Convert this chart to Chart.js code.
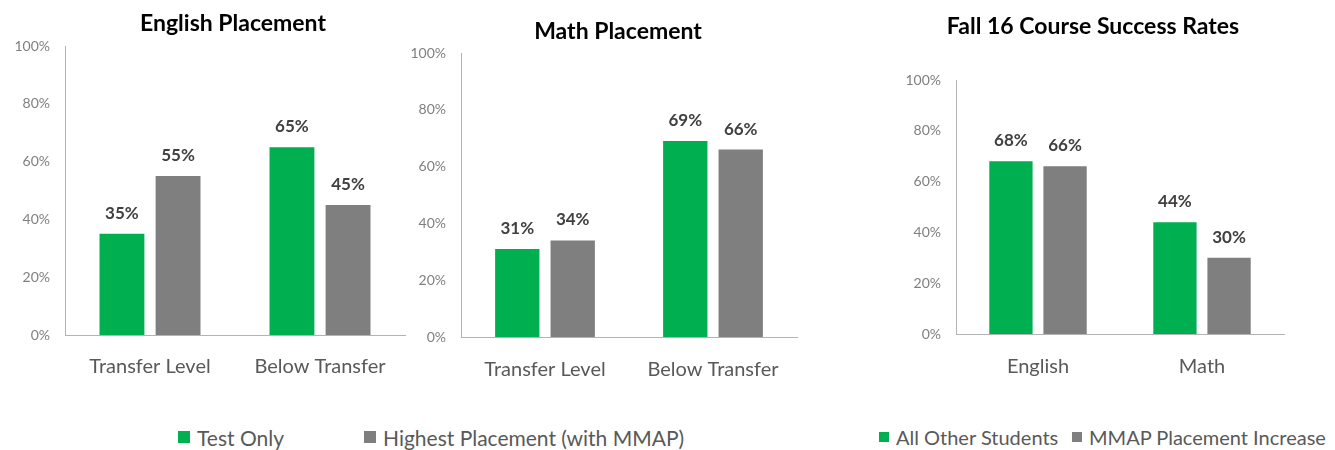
<!DOCTYPE html>
<html>
<head>
<meta charset="utf-8">
<script src="https://cdn.jsdelivr.net/npm/chart.js@4.4.0/dist/chart.umd.min.js"></script>
<style>
  body { margin: 0; background: #fff; width: 1335px; height: 450px; position: relative; overflow: hidden; font-family: Lato, sans-serif; }
  .box { position: absolute; top: 0; height: 400px; }
  .item { position: absolute; top: 425px; height: 24px; display: flex; align-items: center; color: #595959; white-space: nowrap; }
  .item i { display: inline-block; margin-right: 7px; }
</style>
</head>
<body>
<div class="box" style="left:0;width:466px"><canvas id="english"></canvas></div>
<div class="box" style="left:405px;width:423px"><canvas id="math"></canvas></div>
<div class="box" style="left:860px;width:475px"><canvas id="success"></canvas></div>
<div id="legend1"></div>
<div id="legend2"></div>
<script>
const placementCategories = ['Transfer Level', 'Below Transfer'];
const placementSeries = ['Test Only', 'Highest Placement (with MMAP)'];
const englishTestOnly = [35, 65];
const englishHighest = [55, 45];
const mathTestOnly = [31, 69];
const mathHighest = [34, 66];

const successCategories = ['English', 'Math'];
const successSeries = ['All Other Students', 'MMAP Placement Increase'];
const allOtherStudents = [68, 44];
const mmapIncrease = [66, 30];

const colors = ['#00B050', '#7F7F7F'];

// value labels above each bar
const valueLabels = {
  id: 'valueLabels',
  afterDatasetsDraw(chart) {
    const ctx = chart.ctx;
    ctx.save();
    ctx.font = 'bold 17px Lato';
    ctx.fillStyle = '#404040';
    ctx.textAlign = 'center';
    chart.data.datasets.forEach((ds, i) => {
      chart.getDatasetMeta(i).data.forEach((bar, j) => {
        ctx.fillText(ds.data[j] + '%', bar.x, bar.y - 15);
      });
    });
    ctx.restore();
  }
};

function makeChart(id, title, labels, names, series, lay) {
  const scales = {
    x: {
      grid: { display: false, drawTicks: false },
      border: { color: '#b3b3b3' },
      ticks: { color: '#595959', font: { family: 'Lato', size: 20 }, padding: lay.xPad },
      afterFit: s => { s.height = 45; }
    },
    y: {
      min: 0,
      max: 100,
      grid: { display: false, drawTicks: false },
      border: { color: '#b3b3b3' },
      ticks: { stepSize: 20, color: '#7f7f7f', font: { family: 'Lato', size: 14 }, padding: 15, callback: v => v + '%' },
      afterFit: s => { s.width = lay.yw; }
    }
  };
  // empty right axis so the title centres over the whole chart box like the original
  if (lay.rw) {
    scales.r = {
      position: 'right',
      grid: { display: false, drawTicks: false },
      border: { display: false },
      ticks: { display: false },
      afterFit: s => { s.width = lay.rw; }
    };
  }
  new Chart(document.getElementById(id), {
    type: 'bar',
    data: {
      labels: labels,
      datasets: series.map((vals, i) => ({
        label: names[i],
        data: vals,
        backgroundColor: colors[i],
        categoryPercentage: 0.66,
        barPercentage: 0.8
      }))
    },
    options: {
      responsive: true,
      maintainAspectRatio: false,
      animation: false,
      layout: { padding: { left: lay.padL, right: lay.padR, top: 0, bottom: lay.padB } },
      plugins: {
        legend: { display: false },
        tooltip: { enabled: false },
        title: {
          display: true,
          text: title,
          color: '#000',
          font: { family: 'Lato', size: 23, weight: 'bold' },
          padding: { top: lay.titleTop, bottom: lay.titleBottom }
        }
      },
      scales: scales
    },
    plugins: [valueLabels]
  });
}

makeChart('english', 'English Placement', placementCategories, placementSeries,
  [englishTestOnly, englishHighest],
  { padL: 0, yw: 65, rw: 61, padR: 0, padB: 20, titleTop: 10, titleBottom: 8.4, xPad: 20 });
makeChart('math', 'Math Placement', placementCategories, placementSeries,
  [mathTestOnly, mathHighest],
  { padL: 3, yw: 53, rw: 31, padR: 0, padB: 18, titleTop: 18, titleBottom: 7.4, xPad: 21 });
makeChart('success', 'Fall 16 Course Success Rates', successCategories, successSeries,
  [allOtherStudents, mmapIncrease],
  { padL: 42, yw: 54, rw: 0, padR: 51, padB: 21, titleTop: 13, titleBottom: 39.4, xPad: 21 });

function makeLegend(id, names, lefts, size, box) {
  const el = document.getElementById(id);
  names.forEach((n, i) => {
    const d = document.createElement('div');
    d.className = 'item';
    d.style.left = lefts[i] + 'px';
    d.style.fontSize = size + 'px';
    d.innerHTML = '<i style="width:' + box + 'px;height:' + box + 'px;background:' + colors[i] + '"></i>' + n;
    el.appendChild(d);
  });
}
makeLegend('legend1', placementSeries, [178, 364], 21, 12);
makeLegend('legend2', successSeries, [879, 1072], 20, 10);
</script>
</body>
</html>
